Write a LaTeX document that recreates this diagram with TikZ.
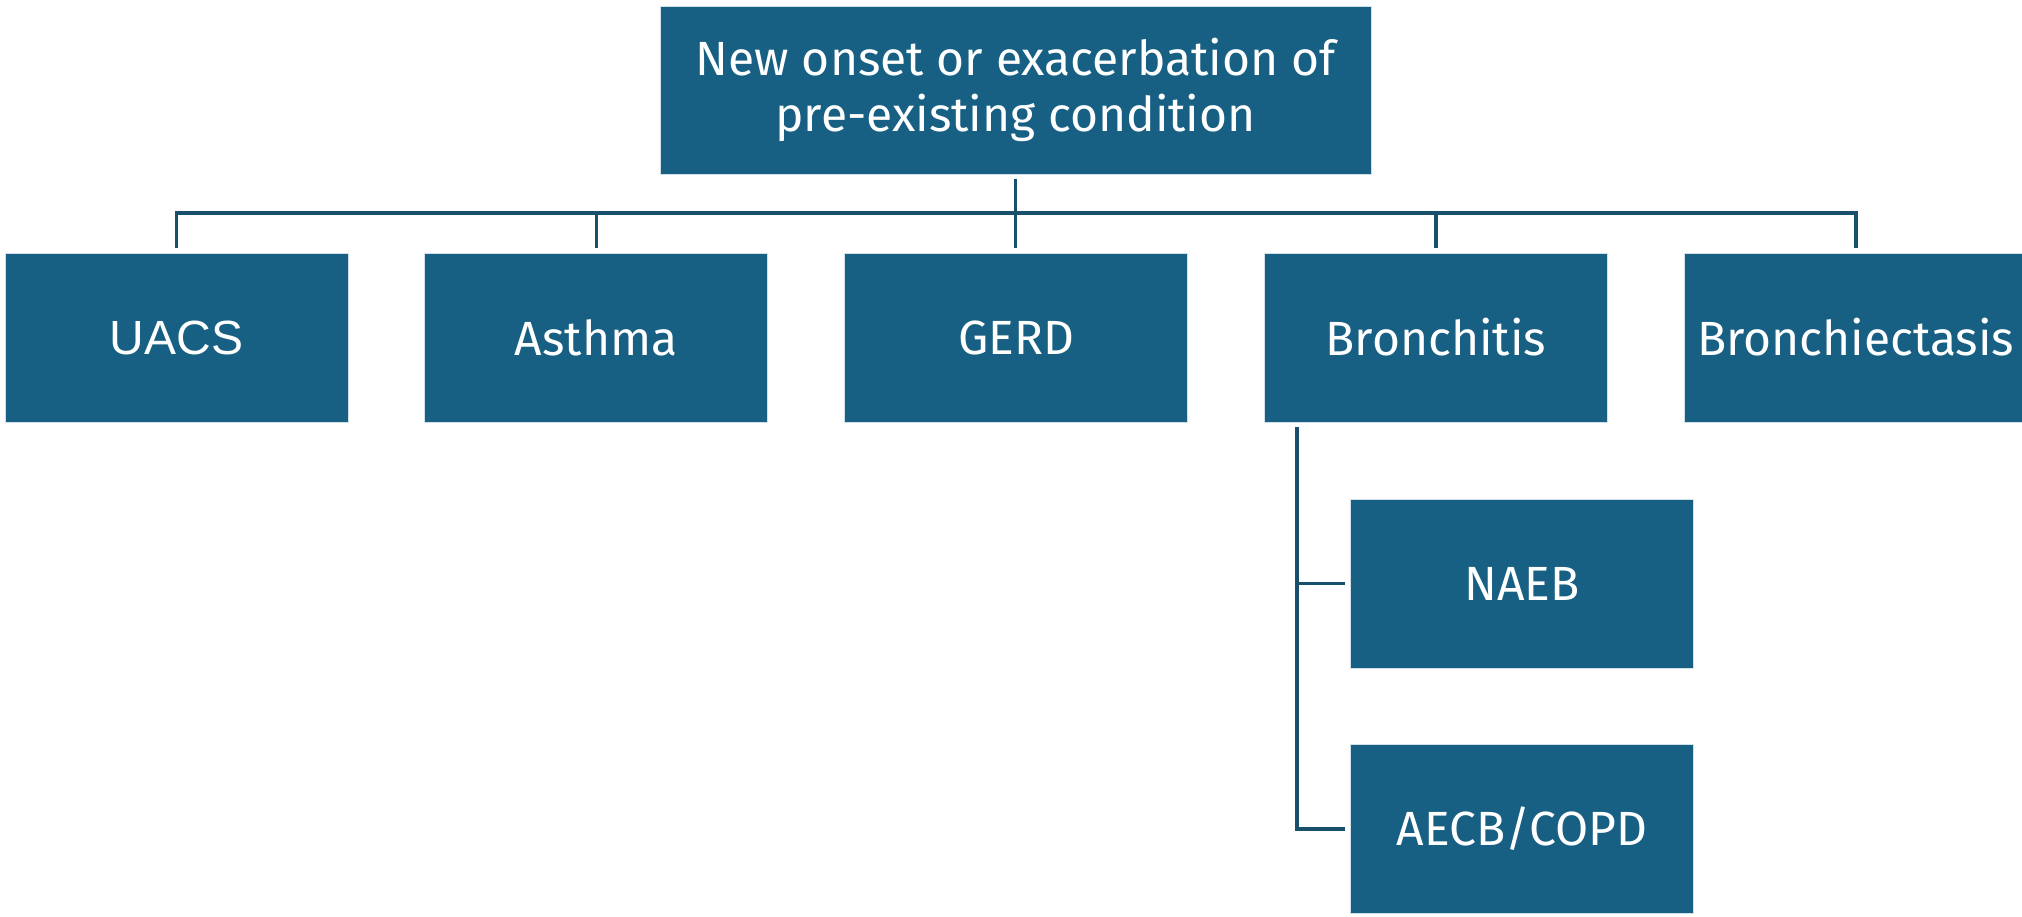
\documentclass[tikz,border=0pt]{standalone}
\usepackage{fontspec}
\setmainfont{Fira Sans}
\newfontfamily\arialfont{Liberation Sans}
\usetikzlibrary{positioning}
\definecolor{boxblue}{HTML}{176083}
\definecolor{linkblue}{HTML}{174F6C}
\tikzset{
    cond-box/.style = {fill=boxblue, draw=white!80!boxblue, line width=0.4pt, rectangle, text=white,
        minimum width=171.5pt, minimum height=84.5pt, inner sep=0pt, outer sep=2.6pt,
        font=\fontsize{24}{28}\selectfont, align=center},
    top-box/.style = {cond-box, minimum width=355.5pt, minimum height=84pt},
    link/.style = {draw=linkblue, line width=1.8pt},
}

\begin{document}
\begin{tikzpicture}[x=0.5pt, y=-0.5pt]
\useasboundingbox (0,0) rectangle (2022,916);
% root
\node [top-box] (root) at (1015.5,90) {New onset or exacerbation of\\pre-existing condition};
% first row
\node [cond-box] (uacs) at (176.5,337.5) {\arialfont UACS};
\node [cond-box, right=33.2pt of uacs] (asthma) {Asthma};
\node [cond-box, right=33.2pt of asthma] (gerd) {GERD};
\node [cond-box, right=33.2pt of gerd] (bronchitis) {Bronchitis};
\node [cond-box, right=33.2pt of bronchitis] (bronchiectasis) {Bronchiectasis};
% bronchitis subtypes
\node [cond-box] (naeb) at (1522,583.5) {NAEB};
\node [cond-box, below=33pt of naeb] (aecb) {AECB/COPD};
% connectors
\coordinate (bus) at (1016,213);
\draw [link] (root.south) -- (root.south |- gerd.north);
\draw [link] (uacs.north) |- (bus) -| (bronchiectasis.north);
\draw [link] (asthma.north) -- (asthma.north |- bus);
\draw [link] (bronchitis.north) -- (bronchitis.north |- bus);
\coordinate (trunk) at ([xshift=19pt]bronchitis.south west);
\draw [link] (trunk) |- (aecb.west);
\draw [link] (trunk |- naeb.west) -- (naeb.west);
\end{tikzpicture}
\end{document}
